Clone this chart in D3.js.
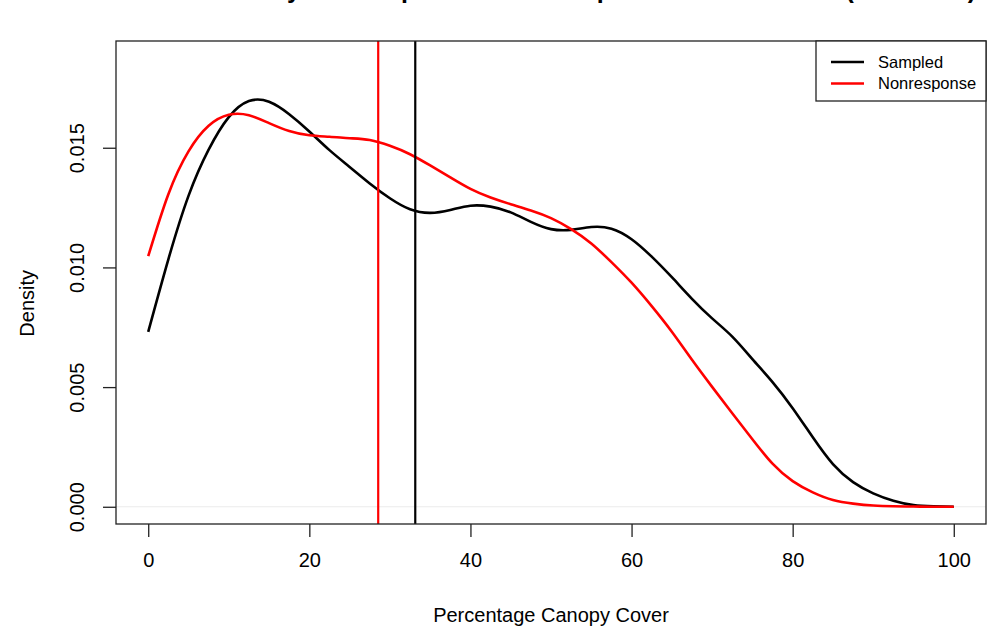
<!DOCTYPE html>
<html>
<head>
<meta charset="utf-8">
<script src="https://cdn.jsdelivr.net/npm/d3@7"></script>
<style>
  body { margin: 0; background: #fff; }
  svg { font-family: "Liberation Sans", Arial, sans-serif; }
</style>
</head>
<body>
<script>
// canopy cover grid (percent), step 2.5
var cover = [0, 2.5, 5, 7.5, 10, 12.5, 15, 17.5, 20, 22.5, 25, 27.5, 30, 32.5, 35, 37.5,
  40, 42.5, 45, 47.5, 50, 52.5, 55, 57.5, 60, 62.5, 65, 67.5, 70, 72.5, 75, 77.5,
  80, 82.5, 85, 87.5, 90, 92.5, 95, 97.5, 100];

// density
var sampled = [0.00731, 0.01034, 0.01299, 0.01492, 0.01628, 0.01695, 0.01692, 0.01640,
  0.01568, 0.01490, 0.01420, 0.01351, 0.01289, 0.01243, 0.01228, 0.01240,
  0.01258, 0.01254, 0.01230, 0.01190, 0.01160, 0.01157, 0.01169, 0.01162,
  0.01118, 0.01045, 0.00959, 0.00869, 0.00787, 0.00711, 0.00617, 0.00521,
  0.00412, 0.00290, 0.00178, 0.00103, 0.00056, 0.00025, 0.00007, 0.00002, 0.0];

var nonresponse = [0.01047, 0.01306, 0.01485, 0.01592, 0.01638, 0.01636, 0.01603, 0.01570,
  0.01552, 0.01546, 0.01540, 0.01532, 0.01508, 0.01473, 0.01426, 0.01376,
  0.01328, 0.01292, 0.01264, 0.01238, 0.01206, 0.01160, 0.01100, 0.01022,
  0.00936, 0.00838, 0.00731, 0.00614, 0.00501, 0.00391, 0.00282, 0.00180,
  0.00107, 0.00060, 0.00028, 0.00013, 0.00005, 0.00002, 0.00001, 0.0, 0.0];

var meanSampled = 33.15, meanNonresponse = 28.55;

var xTicks = [0, 20, 40, 60, 80, 100];
var yTicks = [0, 0.005, 0.010, 0.015];
var seriesNames = ["Sampled", "Nonresponse"];
var seriesColors = ["#000000", "#ff0000"];

var width = 995, height = 632;
var plot = { left: 116, top: 41, right: 986, bottom: 524 };

var svg = d3.select('body')
  .append('svg')
  .attr('width', width)
  .attr('height', height);

var xScale = d3.scaleLinear()
  .domain([-4, 104])
  .range([plot.left, plot.right]);

var yScale = d3.scaleLinear()
  .domain([-0.00072, 0.01946])
  .range([plot.bottom, plot.top]);

// title (mostly above the top edge, as in the original)
svg.append('text')
  .attr('x', (plot.left + plot.right) / 2)
  .attr('y', -2)
  .attr('text-anchor', 'middle')
  .attr('font-weight', 'bold')
  .attr('font-size', 25)
  .text('Kernel Density for Sampled and Nonresponse Plots: Overall (All States)');

// zero line
svg.append('line')
  .attr('x1', plot.left).attr('x2', plot.right)
  .attr('y1', yScale(0)).attr('y2', yScale(0))
  .attr('stroke', '#ebebeb')
  .attr('stroke-width', 1);

var line = d3.line()
  .x(function(d) { return xScale(d[0]); })
  .y(function(d) { return yScale(d[1]); })
  .curve(d3.curveNatural);

var curves = [sampled, nonresponse];
curves.forEach(function(vals, i) {
  svg.append('path')
    .datum(cover.map(function(c, j) { return [c, vals[j]]; }))
    .attr('d', line)
    .attr('fill', 'none')
    .attr('stroke', seriesColors[i])
    .attr('stroke-width', 2.6);
});

// mean lines
[meanSampled, meanNonresponse].forEach(function(m, i) {
  svg.append('line')
    .attr('x1', xScale(m)).attr('x2', xScale(m))
    .attr('y1', plot.top).attr('y2', plot.bottom)
    .attr('stroke', seriesColors[i])
    .attr('stroke-width', 2.2);
});

// box
svg.append('rect')
  .attr('x', plot.left).attr('y', plot.top)
  .attr('width', plot.right - plot.left)
  .attr('height', plot.bottom - plot.top)
  .attr('fill', 'none')
  .attr('stroke', '#222')
  .attr('stroke-width', 1.3);

// axes
var xAxis = d3.axisBottom(xScale).tickValues(xTicks).tickSize(13).tickPadding(16)
  .tickFormat(d3.format('d'));
var xAxisNodes = svg.append('g')
  .attr('transform', 'translate(0,' + plot.bottom + ')')
  .call(xAxis);
styleAxisNodes(xAxisNodes);

var yAxis = d3.axisLeft(yScale).tickValues(yTicks).tickSize(13)
  .tickFormat(d3.format('.3f'));
var yAxisNodes = svg.append('g')
  .attr('transform', 'translate(' + plot.left + ',0)')
  .call(yAxis);
styleAxisNodes(yAxisNodes);
yAxisNodes.selectAll('.tick text')
  .attr('x', null).attr('dy', null)
  .attr('text-anchor', 'middle')
  .attr('transform', 'translate(-32,0) rotate(-90)');

// axis titles
svg.append('text')
  .attr('x', xScale(50))
  .attr('y', 622)
  .attr('text-anchor', 'middle')
  .attr('font-size', 20)
  .text('Percentage Canopy Cover');

svg.append('text')
  .attr('transform', 'translate(34,' + yScale(0.0085) + ') rotate(-90)')
  .attr('text-anchor', 'middle')
  .attr('font-size', 20)
  .text('Density');

// legend
var legend = svg.append('g');
legend.append('rect')
  .attr('x', 816).attr('y', plot.top)
  .attr('width', plot.right - 816).attr('height', 60)
  .attr('fill', '#fff')
  .attr('stroke', '#222')
  .attr('stroke-width', 1.3);

seriesNames.forEach(function(name, i) {
  var ly = 62 + i * 21.5;
  legend.append('line')
    .attr('x1', 831).attr('x2', 864)
    .attr('y1', ly).attr('y2', ly)
    .attr('stroke', seriesColors[i])
    .attr('stroke-width', 2.6);
  legend.append('text')
    .attr('x', 878).attr('y', ly)
    .attr('dy', '0.35em')
    .attr('font-size', 16.5)
    .text(name);
});

function styleAxisNodes(axisNodes) {
  axisNodes.select('.domain').remove();
  axisNodes.selectAll('.tick line')
    .attr('stroke', '#222')
    .attr('stroke-width', 1.3);
  axisNodes.selectAll('.tick text')
    .attr('fill', '#000')
    .attr('font-size', 20)
    .attr('font-family', '"Liberation Sans", Arial, sans-serif');
}
</script>
</body>
</html>
